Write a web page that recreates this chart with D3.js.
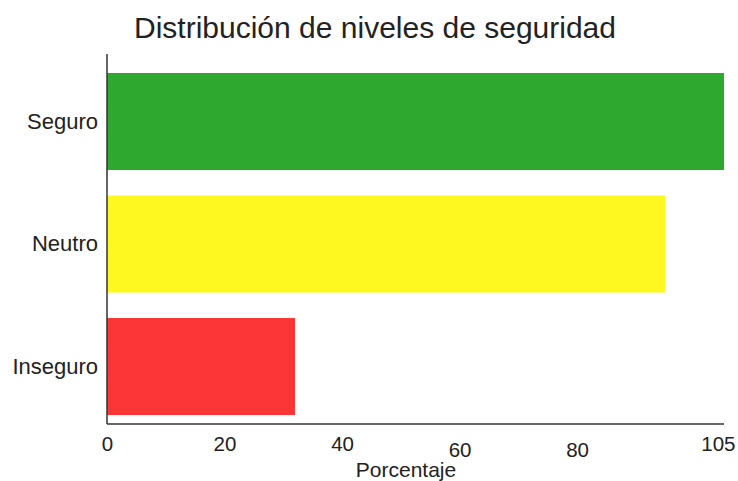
<!DOCTYPE html>
<html>
<head>
<meta charset="utf-8">
<script src="https://cdn.jsdelivr.net/npm/d3@7/dist/d3.min.js"></script>
<style>
  html, body { margin: 0; padding: 0; background: #fff; }
  svg { display: block; }
  text { font-family: "Liberation Sans", Arial, Helvetica, sans-serif; fill: #222; }
</style>
</head>
<body>
<svg id="chart" width="738" height="481"></svg>
<script>
// Data
const categories = ["Seguro", "Neutro", "Inseguro"];
const values = [105, 95, 32];
const colors = ["#2ea82f", "#fff820", "#fc3636"];
const tickValues = [0, 20, 40, 60, 80, 105];
const titleText = "Distribución de niveles de seguridad";
const xLabelText = "Porcentaje";

const W = 738, H = 481;
const margin = { left: 107, right: 14, top: 54, bottom: 57 };
const svg = d3.select("#chart");

const x = d3.scaleLinear()
  .domain([0, d3.max(tickValues)])
  .range([margin.left, W - margin.right]);

const y = d3.scaleBand()
  .domain(categories)
  .range([margin.top, H - margin.bottom])
  .paddingInner(0.208)
  .paddingOuter(0.114)
  .align(0.68);

// Bars
svg.append("g").selectAll("rect")
  .data(categories)
  .join("rect")
  .attr("x", x(0))
  .attr("y", d => y(d))
  .attr("width", (d, i) => x(values[i]) - x(0))
  .attr("height", y.bandwidth())
  .attr("fill", (d, i) => colors[i]);

// Spines
const spine = svg.append("g").attr("stroke", "#333").attr("stroke-width", 1.5);
spine.append("line")
  .attr("x1", x(0)).attr("x2", x(0))
  .attr("y1", margin.top).attr("y2", H - margin.bottom);
spine.append("line")
  .attr("x1", x(0)).attr("x2", W - margin.right)
  .attr("y1", H - margin.bottom).attr("y2", H - margin.bottom);

// X axis (labels only)
const xAxis = d3.axisBottom(x)
  .tickValues(tickValues)
  .tickSize(0)
  .tickPadding(0)
  .tickFormat(d3.format("d"));
const gx = svg.append("g")
  .attr("transform", `translate(0,${H - margin.bottom})`)
  .call(xAxis);
gx.select(".domain").remove();
const lastTick = tickValues.length - 1;
gx.selectAll("text")
  .attr("font-size", 20.5)
  .attr("fill", "#222")
  .attr("dy", null)
  .attr("y", (d, i) => (i === 3 || i === 4) ? 33 : 27)
  .attr("text-anchor", (d, i) => i === lastTick ? "end" : "middle")
  .attr("x", (d, i) => i === lastTick ? 11 : 0)
  .style("font-family", '"Liberation Sans", Arial, sans-serif');

// Y axis (labels only)
const yAxis = d3.axisLeft(y).tickSize(0).tickPadding(9);
const gy = svg.append("g")
  .attr("transform", `translate(${x(0)},0)`)
  .call(yAxis);
gy.select(".domain").remove();
gy.selectAll("text")
  .attr("font-size", 22)
  .attr("fill", "#222")
  .style("font-family", '"Liberation Sans", Arial, sans-serif');

// Title
svg.append("text")
  .attr("x", 375)
  .attr("y", 38)
  .attr("text-anchor", "middle")
  .attr("font-size", 30)
  .text(titleText);

// X label
svg.append("text")
  .attr("x", 406)
  .attr("y", 477)
  .attr("text-anchor", "middle")
  .attr("font-size", 21)
  .text(xLabelText);
</script>
</body>
</html>
